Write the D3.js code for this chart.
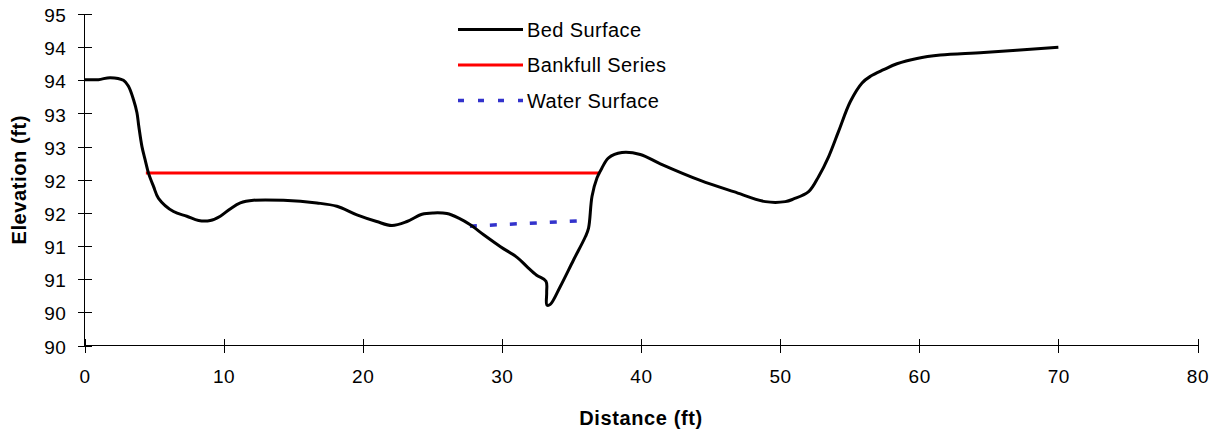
<!DOCTYPE html>
<html>
<head>
<meta charset="utf-8">
<script src="https://cdn.jsdelivr.net/npm/d3@7"></script>
<style>
  body { margin: 0; background: #fff; }
  text { font-family: "Liberation Sans", Arial, sans-serif; fill: #000; }
  .axis path, .axis line { stroke: #000; stroke-width: 1; shape-rendering: crispEdges; }
  .axis text { font-size: 19px; letter-spacing: 0.6px; }
  .title { font-size: 20px; font-weight: bold; letter-spacing: 0.6px; }
  .legend text { font-size: 20px; letter-spacing: 0.4px; }
</style>
</head>
<body>
<svg width="1223" height="431"></svg>
<script>
  // cross section survey
  var bedDist = [0, 1.0, 1.85, 2.8, 3.16, 3.52, 3.77, 3.9, 4.13, 4.36, 4.6, 4.96, 5.32, 6.4, 7.36, 8.2, 9.04, 9.76,
                 10.47, 11.2, 12.15, 14.3, 16.7, 18.14, 19.58, 21.0, 22.1, 23.18, 24.26, 25.1, 26.05, 26.9, 27.73,
                 28.69, 29.9, 31.09, 31.8, 32.5, 33.17, 33.22, 33.24, 33.48, 34.2, 35.15, 36.0, 36.23, 36.48, 36.84,
                 37.2, 37.67, 38.63, 39.95, 41.39, 44.26, 46.66, 48.94, 50.37, 50.97, 52.05, 52.77, 53.49, 54.2,
                 55.05, 55.89, 56.49, 57.44, 58.4, 59.84, 61.52, 64.63, 70.0];
  var bedElev = [94.01, 94.01, 94.04, 94.0, 93.91, 93.71, 93.51, 93.31, 93.0, 92.8, 92.6, 92.4, 92.22, 92.02, 91.95, 91.885, 91.885, 91.95,
                 92.06, 92.15, 92.19, 92.19, 92.15, 92.1, 91.97, 91.87, 91.81, 91.87, 91.98, 92.0, 91.99, 91.92, 91.82,
                 91.67, 91.49, 91.33, 91.19, 91.06, 90.97, 90.8, 90.61, 90.62, 90.89, 91.29, 91.64, 91.77, 92.25, 92.53,
                 92.68, 92.83, 92.91, 92.88, 92.74, 92.49, 92.32, 92.17, 92.17, 92.21, 92.32, 92.55, 92.85, 93.23,
                 93.68, 93.96, 94.06, 94.16, 94.25, 94.33, 94.38, 94.42, 94.5];

  var bankDist = [4.41, 37.07];
  var bankElev = [92.6, 92.6];

  var waterDist = [27.7, 35.5];
  var waterElev = [91.8, 91.88];

  var xTicks = [0, 10, 20, 30, 40, 50, 60, 70, 80];
  var yTicks = [90, 90.5, 91, 91.5, 92, 92.5, 93, 93.5, 94, 94.5, 95];
  var yTickLabels = ["90", "90", "91", "91", "92", "92", "93", "93", "94", "94", "95"];

  var seriesNames = ["Bed Surface", "Bankfull Series", "Water Surface"];

  var svg = d3.select("svg");

  var x = d3.scaleLinear().domain([0, 80]).range([84.5, 1197.5]);
  var y = d3.scaleLinear().domain([90, 95]).range([345.5, 14]);

  // x axis, ticks cross the line
  var gx = svg.append("g")
      .attr("class", "axis")
      .attr("transform", "translate(0," + y(90) + ")")
      .call(d3.axisBottom(x).tickValues(xTicks).tickSize(7).tickPadding(17).tickFormat(d3.format("d")));
  gx.selectAll(".tick line").attr("y1", -7);
  gx.select(".domain").attr("d", "M" + x(0) + ",0H" + x(80));

  var gy = svg.append("g")
      .attr("class", "axis")
      .attr("transform", "translate(" + x(0) + ",0)")
      .call(d3.axisLeft(y).tickValues(yTicks).tickSize(7).tickPadding(11)
        .tickFormat(function(d, i) { return yTickLabels[i]; }));
  gy.selectAll(".tick line").attr("x1", 7);
  gy.selectAll(".tick text").attr("dy", "0.4em");
  gy.select(".domain").attr("d", "M0," + y(90) + "V" + y(95));

  // titles
  svg.append("text")
      .attr("class", "title")
      .attr("x", (x(0) + x(80)) / 2)
      .attr("y", 425)
      .attr("text-anchor", "middle")
      .text("Distance (ft)");
  svg.append("text")
      .attr("class", "title")
      .attr("transform", "translate(26," + (y(90) + y(95)) / 2 + ") rotate(-90)")
      .attr("text-anchor", "middle")
      .text("Elevation (ft)");

  var line = d3.line()
      .x(function(d) { return x(d[0]); })
      .y(function(d) { return y(d[1]); });

  var bed = d3.zip(bedDist, bedElev);
  var bank = d3.zip(bankDist, bankElev);
  var water = d3.zip(waterDist, waterElev);

  svg.append("path")
      .datum(bank)
      .attr("d", line)
      .attr("fill", "none")
      .attr("stroke", "#ff0000")
      .attr("stroke-width", 3);

  svg.append("path")
      .datum(water)
      .attr("d", line)
      .attr("fill", "none")
      .attr("stroke", "#3333cc")
      .attr("stroke-width", 3.5)
      .attr("stroke-dasharray", "7,13");

  svg.append("path")
      .datum(bed)
      .attr("d", line.curve(d3.curveCatmullRom.alpha(0.5)))
      .attr("fill", "none")
      .attr("stroke", "#000")
      .attr("stroke-width", 3)
      .attr("stroke-linejoin", "round");

  // legend
  var styles = [
    { stroke: "#000", width: 3, dash: null },
    { stroke: "#ff0000", width: 3, dash: null },
    { stroke: "#3333cc", width: 3.5, dash: "6,14" }
  ];
  var legend = svg.append("g").attr("class", "legend");
  seriesNames.forEach(function(name, i) {
    var ly = 29.5 + i * 35.5;
    legend.append("line")
        .attr("x1", 458).attr("x2", 523)
        .attr("y1", ly).attr("y2", ly)
        .attr("stroke", styles[i].stroke)
        .attr("stroke-width", styles[i].width)
        .attr("stroke-dasharray", styles[i].dash);
    legend.append("text")
        .attr("x", 527)
        .attr("y", ly + 7)
        .text(name);
  });
</script>
</body>
</html>
